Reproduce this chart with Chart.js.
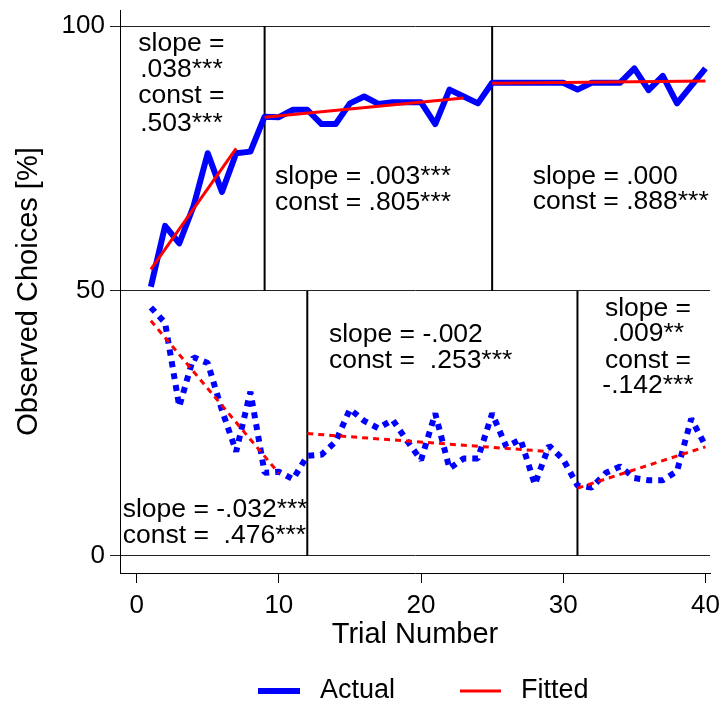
<!DOCTYPE html>
<html><head><meta charset="utf-8">
<script src="https://cdn.jsdelivr.net/npm/chart.js@4/dist/chart.umd.min.js"></script>
<style>html,body{margin:0;padding:0;background:#fff}#wrap{width:724px;height:706px;position:relative}</style>
</head><body><div id="wrap"><canvas id="c"></canvas></div>
<script>
// ---- data ----
const trials = [1,2,3,4,5,6,7,8,9,10,11,12,13,14,15,16,17,18,19,20,21,22,23,24,25,26,27,28,29,30,31,32,33,34,35,36,37,38,39,40];
const actualUpper = [50.8,62.3,59.0,66.0,76.0,68.7,76.0,76.3,82.9,82.8,84.2,84.2,81.5,81.5,85.4,86.7,85.3,85.6,85.6,85.6,81.5,88.0,86.7,85.4,89.3,89.3,89.3,89.3,89.3,89.3,88.0,89.3,89.3,89.3,92.0,87.9,90.6,85.4,88.7,92.0];
const actualLower = [46.9,44.0,28.2,37.5,36.4,27.5,19.7,31.0,15.7,15.9,14.5,18.9,19.1,21.6,27.7,25.5,24.1,25.7,21.8,18.1,26.9,16.5,18.4,18.4,26.9,20.6,22.0,13.5,20.8,18.2,13.3,12.9,15.7,16.9,14.7,14.3,14.3,16.0,25.9,20.8];
const fitUpperStartX = [1, 9, 25];
const fitUpperEndX   = [7, 23, 40];
const fitUpperStartY = [54.1, 82.8, 89.2];
const fitUpperEndY   = [76.9, 86.4, 89.6];
const fitLowerStartX = [1, 12, 31];
const fitLowerEndX   = [10, 29, 40];
const fitLowerStartY = [44.4, 23.1, 12.8];
const fitLowerEndY   = [15.6, 19.7, 20.6];
const breaksUpper = [9, 25];
const breaksLower = [12, 31];
const upperRange = [50, 100];
const lowerRange = [0, 50];
const xTicks = [0, 10, 20, 30, 40];
const yTicks = [0, 50, 100];
const legendLabels = ['Actual', 'Fitted'];
const annotA = ['slope =', '.038***', 'const =', '.503***'];
const annotB = ['slope = .003***', 'const = .805***'];
const annotC = ['slope = .000', 'const = .888***'];
const annotD = ['slope = -.002', 'const =  .253***'];
const annotE = ['slope =', '.009**', 'const =', '-.142***'];
const annotF = ['slope = -.032***', 'const =  .476***'];

// ---- styling / layout ----
const BLUE = '#0000ff', RED = '#ff0000', BLACK = '#000000';
const FONT = '"Liberation Sans", Arial, Helvetica, sans-serif';
const annotLayout = [
  {lines: annotA, x: 3.15, ys: [95.2, 90.4, 85.4, 80.2], align: 'center'},
  {lines: annotB, x: 9.73, ys: [70.1, 65.3], align: 'left'},
  {lines: annotC, x: 27.85, ys: [70.1, 65.4], align: 'left'},
  {lines: annotD, x: 13.52, ys: [40.3, 35.4], align: 'left'},
  {lines: annotE, x: 35.96, ys: [45.3, 40.6, 35.5, 30.7], align: 'center'},
  {lines: annotF, x: -0.98, ys: [7.4, 2.5], align: 'left'}
];

const pts = (xs, ys) => xs.map((v, i) => ({x: v, y: ys[i]}));
const datasets = [];
datasets.push({label: 'Actual', data: pts(trials, actualUpper), borderColor: BLUE, borderWidth: 6, order: 2, borderJoinStyle: 'round'});
datasets.push({label: 'Actual (lower)', data: pts(trials, actualLower), borderColor: BLUE, borderWidth: 6, borderDash: [6, 6], order: 2, borderJoinStyle: 'bevel'});
fitUpperStartX.forEach((s, i) => datasets.push({label: 'Fitted', data: pts([s, fitUpperEndX[i]], [fitUpperStartY[i], fitUpperEndY[i]]), borderColor: RED, borderWidth: 3, order: 1}));
fitLowerStartX.forEach((s, i) => datasets.push({label: 'Fitted (lower)', data: pts([s, fitLowerEndX[i]], [fitLowerStartY[i], fitLowerEndY[i]]), borderColor: RED, borderWidth: 3, borderDash: [6, 5], order: 1}));
breaksUpper.forEach(b => datasets.push({label: 'break', data: pts([b, b], upperRange), borderColor: BLACK, borderWidth: 2, order: 3}));
breaksLower.forEach(b => datasets.push({label: 'break', data: pts([b, b], lowerRange), borderColor: BLACK, borderWidth: 2, order: 3}));
datasets.forEach(d => { d.pointRadius = 0; d.tension = 0; d.fill = false; d.borderCapStyle = 'butt'; });

const annotPlugin = {
  id: 'annots',
  afterDatasetsDraw(chart) {
    const {ctx, scales: {x, y}} = chart;
    ctx.save();
    ctx.font = '26.5px ' + FONT;
    ctx.fillStyle = BLACK;
    ctx.textBaseline = 'alphabetic';
    annotLayout.forEach(a => {
      ctx.textAlign = a.align;
      a.lines.forEach((t, i) => ctx.fillText(t, x.getPixelForValue(a.x), y.getPixelForValue(a.ys[i])));
    });
    ctx.restore();
  }
};
const legendPlugin = {
  id: 'customLegend',
  afterDraw(chart) {
    const ctx = chart.ctx;
    const cy = 691;
    const items = [
      {text: legendLabels[0], color: BLUE, w: 6, x0: 258, x1: 300, tx: 320},
      {text: legendLabels[1], color: RED, w: 3, x0: 460, x1: 501, tx: 521}
    ];
    ctx.save();
    ctx.font = '27px ' + FONT;
    ctx.textBaseline = 'middle';
    ctx.textAlign = 'left';
    items.forEach(it => {
      ctx.strokeStyle = it.color; ctx.lineWidth = it.w; ctx.lineCap = 'butt';
      ctx.beginPath(); ctx.moveTo(it.x0, cy); ctx.lineTo(it.x1, cy); ctx.stroke();
      ctx.fillStyle = BLACK; ctx.fillText(it.text, it.tx, cy);
    });
    ctx.restore();
  }
};

new Chart(document.getElementById('c'), {
  type: 'line',
  data: {datasets},
  options: {
    responsive: true, maintainAspectRatio: false, animation: false,
    layout: {padding: {top: 10, right: 14, left: 0, bottom: 48}},
    plugins: {legend: {display: false}, tooltip: {enabled: false}},
    scales: {
      x: {
        type: 'linear', min: -1.17, max: 40.32,
        afterBuildTicks: s => { s.ticks = xTicks.map(v => ({value: v})); },
        afterFit: s => { s.height = 85; s.paddingLeft = 0; s.paddingRight = 0; },
        grid: {drawOnChartArea: false, drawTicks: true, tickLength: 10, color: BLACK, lineWidth: 1},
        border: {display: true, color: BLACK, width: 1},
        ticks: {color: BLACK, font: {family: FONT, size: 26}, padding: 7, maxRotation: 0, autoSkip: false},
        title: {display: true, text: 'Trial Number', color: BLACK, font: {family: FONT, size: 29}, padding: {top: 0, bottom: 6}}
      },
      y: {
        type: 'linear', min: -3.21, max: 103.02,
        afterBuildTicks: s => { s.ticks = yTicks.map(v => ({value: v})); },
        afterFit: s => { s.width = 120; s.paddingTop = 0; s.paddingBottom = 0; },
        grid: {drawOnChartArea: true, drawTicks: true, tickLength: 10, color: '#222', lineWidth: 1},
        border: {display: true, color: BLACK, width: 1},
        ticks: {color: BLACK, font: {family: FONT, size: 26}, padding: 5, autoSkip: false},
        title: {display: true, text: 'Observed Choices [%]', color: BLACK, font: {family: FONT, size: 29}, padding: {top: 12, bottom: 0}}
      }
    }
  },
  plugins: [annotPlugin, legendPlugin]
});
</script></body></html>
